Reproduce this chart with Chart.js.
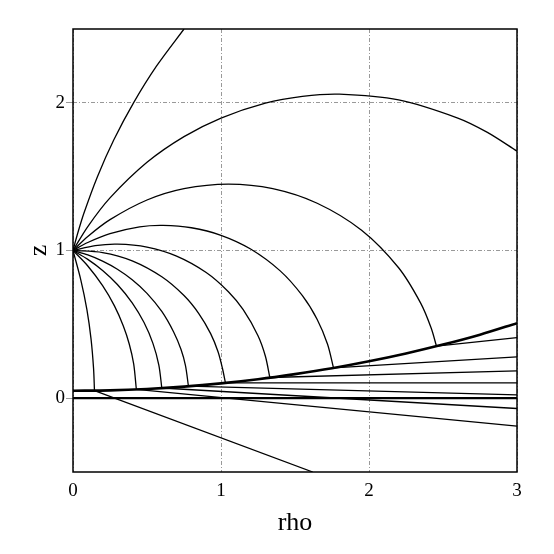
<!DOCTYPE html>
<html>
<head>
<meta charset="utf-8">
<script src="https://cdn.jsdelivr.net/npm/chart.js@4.4.1/dist/chart.umd.min.js"></script>
<style>
  html, body { margin: 0; padding: 0; background: #fff; }
  canvas { display: block; }
</style>
</head>
<body>
<canvas id="rays" width="554" height="554"></canvas>
<script>
// tick labels
const xTicks = [0, 1, 2, 3];
const yTicks = [0, 1, 2];

// wavefront arcs leaving the source at (0, 1), [rho, z]
const arc1 = [[0,1],[0.027,1.1],[0.073,1.25],[0.165,1.5],[0.276,1.75],[0.409,2.0],[0.565,2.25],[0.75,2.5]];
const arc2 = [[0,1],[0.1,1.162],[0.25,1.356],[0.5,1.597],[0.75,1.771],[1.0,1.897],[1.3,1.998],[1.55,2.044],[1.8,2.059],[2.2,2.02],[2.6,1.897],[2.8,1.8],[3.0,1.673]];
const arc3 = [[0,1],[0.1,1.095],[0.25,1.209],[0.5,1.342],[0.75,1.419],[1.05,1.45],[1.35,1.419],[1.65,1.32],[1.95,1.137],[2.2,0.883],[2.35,0.642],[2.42,0.475],[2.456,0.352]];
const arc4 = [[0,1],[0.1,1.054],[0.25,1.114],[0.45,1.16],[0.608,1.17],[0.8,1.154],[1.0,1.103],[1.2,1.01],[1.4,0.862],[1.55,0.694],[1.65,0.533],[1.72,0.365],[1.76,0.205]];
const arc5 = [[0,1],[0.15,1.033],[0.3,1.043],[0.5,1.023],[0.7,0.962],[0.9,0.851],[1.05,0.721],[1.15,0.599],[1.25,0.423],[1.3,0.284],[1.33,0.14]];
const arc6 = [[0,1],[0.2,0.986],[0.4,0.93],[0.6,0.822],[0.75,0.695],[0.85,0.573],[0.93,0.437],[0.98,0.314],[1.01,0.201],[1.03,0.103]];
const arc7 = [[0,1],[0.1,0.97],[0.2,0.928],[0.3,0.873],[0.4,0.802],[0.5,0.71],[0.6,0.587],[0.68,0.448],[0.73,0.329],[0.76,0.22],[0.78,0.081]];
const arc8 = [[0,1],[0.1,0.94],[0.2,0.865],[0.3,0.77],[0.4,0.646],[0.48,0.512],[0.54,0.371],[0.58,0.224],[0.6,0.069]];
const arc9 = [[0,1],[0.1,0.895],[0.2,0.762],[0.28,0.625],[0.34,0.489],[0.38,0.367],[0.41,0.232],[0.428,0.06]];
const arc10 = [[0,1],[0.053,0.8],[0.094,0.6],[0.122,0.4],[0.139,0.2],[0.145,0.051]];

// heavy boundary curve and the z = 0 line
const surface = [[0,0.05],[0.25,0.053],[0.5,0.0625],[0.75,0.078],[1.0,0.1],[1.25,0.128],[1.5,0.163],[1.75,0.203],[2.0,0.25],[2.25,0.303],[2.5,0.363],[2.75,0.43],[3.0,0.508]];
const groundLine = [[0,0],[3,0]];

// straight rays leaving the boundary
const ray1 = [[0.145,0.051],[1.62,-0.5]];
const ray2 = [[0.428,0.06],[3,-0.19]];
const ray3 = [[0.6,0.069],[3,-0.07]];
const ray4 = [[0.78,0.081],[3,0.022]];
const ray5 = [[1.03,0.103],[3,0.104]];
const ray6 = [[1.33,0.14],[3,0.185]];
const ray7 = [[1.76,0.205],[3,0.28]];
const ray8 = [[2.456,0.352],[3,0.41]];

const arcs = [arc1, arc2, arc3, arc4, arc5, arc6, arc7, arc8, arc9, arc10];
const rays = [ray1, ray2, ray3, ray4, ray5, ray6, ray7, ray8];

function toPoints(list) {
    return list.map(p => ({ x: p[0], y: p[1] }));
}

function lineSet(list, width, tension) {
    return {
        data: toPoints(list),
        borderColor: "#000",
        borderWidth: width,
        pointRadius: 0,
        fill: false,
        tension: tension
    };
}

const datasets = [];
arcs.forEach(a => datasets.push(lineSet(a, 1.3, 0.3)));
rays.forEach(r => datasets.push(lineSet(r, 1.3, 0)));
datasets.push(lineSet(surface, 2.6, 0.3));
datasets.push(lineSet(groundLine, 2.2, 0));

// frame round the plot area
const frame = {
    id: "frame",
    afterDraw(chart) {
        const { ctx, chartArea: a } = chart;
        ctx.save();
        ctx.strokeStyle = "#000";
        ctx.lineWidth = 1.5;
        ctx.strokeRect(a.left, a.top, a.right - a.left, a.bottom - a.top);
        ctx.restore();
    }
};

const serif = "'Liberation Serif', 'DejaVu Serif', serif";

new Chart(document.getElementById("rays"), {
    type: "line",
    data: { datasets: datasets },
    plugins: [frame],
    options: {
        responsive: false,
        animation: false,
        layout: { padding: { left: 0, top: 29, right: 37, bottom: 0 } },
        plugins: { legend: { display: false }, tooltip: { enabled: false } },
        scales: {
            x: {
                type: "linear",
                min: 0,
                max: 3,
                afterBuildTicks: scale => { scale.ticks = xTicks.map(v => ({ value: v })); },
                afterFit: scale => { scale.height = 82; },
                ticks: { color: "#000", padding: 8, font: { family: serif, size: 19 } },
                grid: { color: "#999", lineWidth: 1, drawTicks: false },
                border: { display: false, dash: [4, 2, 1, 2] },
                title: { display: true, text: "rho", color: "#000", padding: { top: 0, bottom: 15 }, font: { family: serif, size: 26 } }
            },
            y: {
                type: "linear",
                min: -0.5,
                max: 2.5,
                afterBuildTicks: scale => { scale.ticks = yTicks.map(v => ({ value: v })); },
                afterFit: scale => { scale.width = 73; },
                ticks: { color: "#000", padding: 1, font: { family: serif, size: 19 } },
                grid: { color: "#999", lineWidth: 1, tickLength: 7 },
                border: { display: false, dash: [4, 2, 1, 2] },
                title: { display: true, text: "z", color: "#000", padding: { top: 24 }, font: { family: serif, size: 26 } }
            }
        }
    }
});
</script>
</body>
</html>
